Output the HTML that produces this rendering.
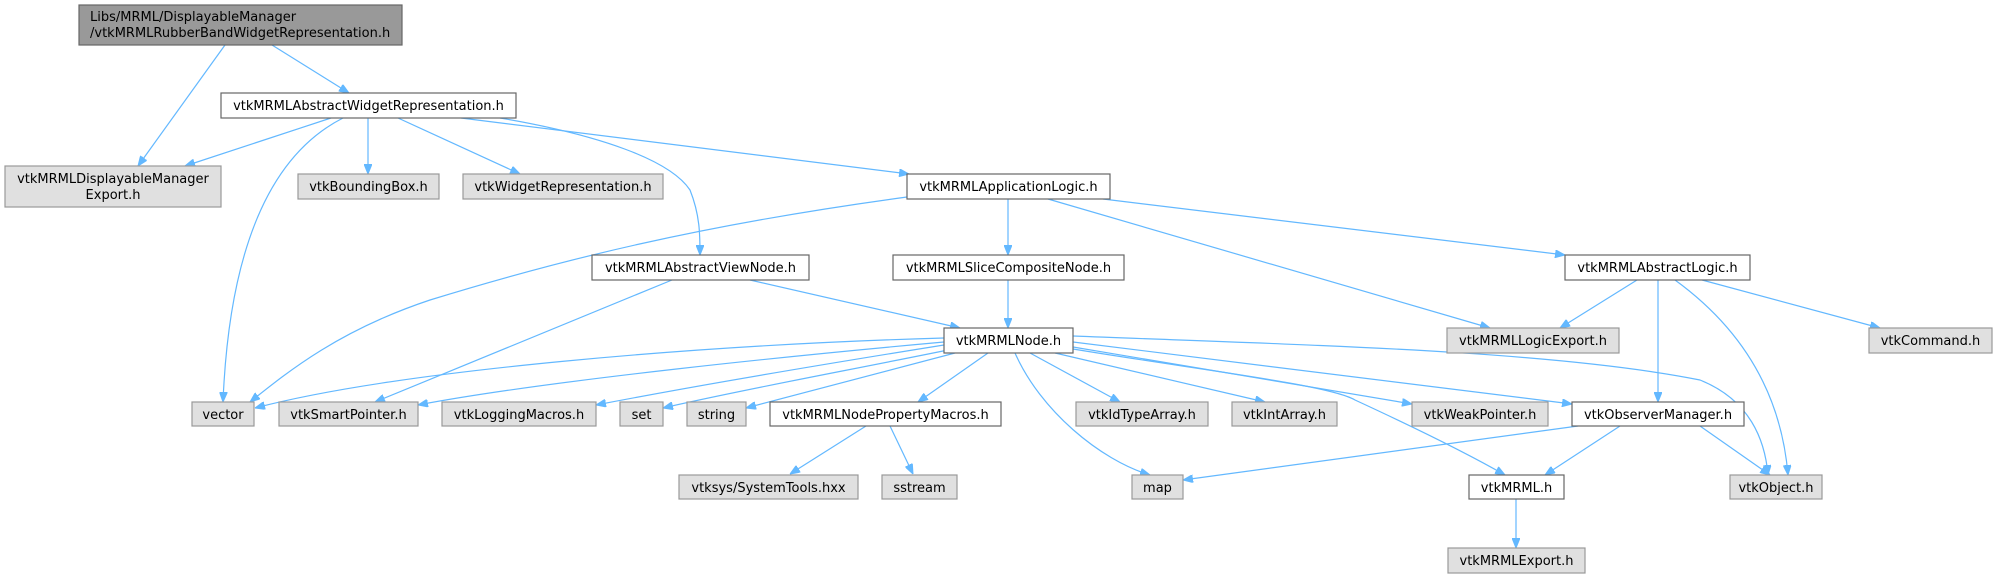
<!DOCTYPE html>
<html><head><meta charset="utf-8"><style>
html,body{margin:0;padding:0;background:#fff;}
svg{display:block;}
text{font-family:"DejaVu Sans","Liberation Sans",sans-serif;font-size:13px;fill:#000;}
.w{fill:#fff;stroke:#666;stroke-width:1.2;}
.g{fill:#e0e0e0;stroke:#999;stroke-width:1.2;}
.r{fill:#999;stroke:#666;stroke-width:1.2;}
.e{fill:none;stroke:#63b8ff;stroke-width:1.2;}
</style></head><body>
<svg width="1997" height="579" viewBox="0 0 1997 579" xmlns="http://www.w3.org/2000/svg">
<defs><marker id="a" viewBox="0 0 10 8" refX="10" refY="4" markerWidth="10" markerHeight="8" markerUnits="userSpaceOnUse" orient="auto"><path d="M0,0 L10,4 L0,8 z" fill="#63b8ff" stroke="#63b8ff"/></marker></defs>
<g marker-end="url(#a)">
<path class="e" d="M225,45 L138,166"/>
<path class="e" d="M272,45 L349,93"/>
<path class="e" d="M331,118 L185,166"/>
<path class="e" d="M343,118 C280,150 230,230 223,402"/>
<path class="e" d="M368,118 L368,174"/>
<path class="e" d="M398,118 L520,174"/>
<path class="e" d="M461,118 L909,174"/>
<path class="e" d="M500,118 C600,135 670,160 690,190 C700,215 700,235 700,255"/>
<path class="e" d="M907,197 C700,225 560,260 430,300 C340,330 290,370 250,402"/>
<path class="e" d="M1008,199 L1008,255"/>
<path class="e" d="M1048,199 L1490,328"/>
<path class="e" d="M1103,199 L1565,255"/>
<path class="e" d="M672,280 L375,402"/>
<path class="e" d="M750,280 L960,328"/>
<path class="e" d="M1008,280 L1008,328"/>
<path class="e" d="M1637,280 L1560,328"/>
<path class="e" d="M1658,280 L1658,402"/>
<path class="e" d="M1675,280 C1730,320 1780,380 1788,475"/>
<path class="e" d="M1702,280 L1880,328"/>
<path class="e" d="M944,338 C700,345 400,370 255,408"/>
<path class="e" d="M944,342 C800,355 550,380 418,405"/>
<path class="e" d="M944,345 C850,360 700,385 596,405"/>
<path class="e" d="M948,350 C850,370 740,390 663,408"/>
<path class="e" d="M955,353 L746,408"/>
<path class="e" d="M988,353 L918,402"/>
<path class="e" d="M1015,353 C1040,410 1100,460 1150,475"/>
<path class="e" d="M1030,353 L1120,402"/>
<path class="e" d="M1055,353 L1265,402"/>
<path class="e" d="M1073,347 L1412,404"/>
<path class="e" d="M1073,342 L1572,404"/>
<path class="e" d="M1073,349 C1200,370 1330,385 1355,400 C1420,430 1470,455 1505,475"/>
<path class="e" d="M1073,336 C1300,345 1550,350 1700,380 C1750,400 1765,440 1768,475"/>
<path class="e" d="M866,426 L790,474"/>
<path class="e" d="M890,426 L913,474"/>
<path class="e" d="M1578,426 L1183,480"/>
<path class="e" d="M1620,426 L1545,475"/>
<path class="e" d="M1700,426 L1770,475"/>
<path class="e" d="M1516,499 L1516,548"/>
</g>
<rect class="r" x="79" y="5" width="323" height="40"/>
<text x="90" y="21">Libs/MRML/DisplayableManager</text>
<text x="90" y="37">/vtkMRMLRubberBandWidgetRepresentation.h</text>
<rect class="w" x="221" y="93" width="295" height="25"/><text x="368.5" y="110" text-anchor="middle">vtkMRMLAbstractWidgetRepresentation.h</text>
<rect class="g" x="5" y="166" width="216" height="41"/>
<text x="113" y="183" text-anchor="middle">vtkMRMLDisplayableManager</text>
<text x="113" y="199" text-anchor="middle">Export.h</text>
<rect class="g" x="298" y="174" width="141" height="25"/><text x="368.5" y="191" text-anchor="middle">vtkBoundingBox.h</text>
<rect class="g" x="463" y="174" width="200" height="25"/><text x="563" y="191" text-anchor="middle">vtkWidgetRepresentation.h</text>
<rect class="w" x="907" y="174" width="203" height="25"/><text x="1008.5" y="191" text-anchor="middle">vtkMRMLApplicationLogic.h</text>
<rect class="w" x="592" y="255" width="217" height="25"/><text x="700.5" y="272" text-anchor="middle">vtkMRMLAbstractViewNode.h</text>
<rect class="w" x="893" y="255" width="231" height="25"/><text x="1008.5" y="272" text-anchor="middle">vtkMRMLSliceCompositeNode.h</text>
<rect class="w" x="1565" y="255" width="185" height="25"/><text x="1657.5" y="272" text-anchor="middle">vtkMRMLAbstractLogic.h</text>
<rect class="w" x="944" y="328" width="129" height="25"/><text x="1008.5" y="345" text-anchor="middle">vtkMRMLNode.h</text>
<rect class="g" x="1447" y="328" width="172" height="25"/><text x="1533" y="345" text-anchor="middle">vtkMRMLLogicExport.h</text>
<rect class="g" x="1869" y="328" width="123" height="25"/><text x="1930.5" y="345" text-anchor="middle">vtkCommand.h</text>
<rect class="g" x="192" y="402" width="62" height="24"/><text x="223" y="419" text-anchor="middle">vector</text>
<rect class="g" x="279" y="402" width="139" height="24"/><text x="348.5" y="419" text-anchor="middle">vtkSmartPointer.h</text>
<rect class="g" x="442" y="402" width="154" height="24"/><text x="519" y="419" text-anchor="middle">vtkLoggingMacros.h</text>
<rect class="g" x="620" y="402" width="43" height="24"/><text x="641.5" y="419" text-anchor="middle">set</text>
<rect class="g" x="687" y="402" width="59" height="24"/><text x="716.5" y="419" text-anchor="middle">string</text>
<rect class="w" x="770" y="402" width="231" height="24"/><text x="885.5" y="419" text-anchor="middle">vtkMRMLNodePropertyMacros.h</text>
<rect class="g" x="1076" y="402" width="132" height="24"/><text x="1142" y="419" text-anchor="middle">vtkIdTypeArray.h</text>
<rect class="g" x="1232" y="402" width="105" height="24"/><text x="1284.5" y="419" text-anchor="middle">vtkIntArray.h</text>
<rect class="g" x="1412" y="402" width="136" height="24"/><text x="1480" y="419" text-anchor="middle">vtkWeakPointer.h</text>
<rect class="w" x="1572" y="402" width="172" height="24"/><text x="1658" y="419" text-anchor="middle">vtkObserverManager.h</text>
<rect class="g" x="679" y="475" width="179" height="24"/><text x="768.5" y="492" text-anchor="middle">vtksys/SystemTools.hxx</text>
<rect class="g" x="882" y="475" width="75" height="24"/><text x="919.5" y="492" text-anchor="middle">sstream</text>
<rect class="g" x="1132" y="475" width="51" height="24"/><text x="1157.5" y="492" text-anchor="middle">map</text>
<rect class="w" x="1469" y="475" width="95" height="24"/><text x="1516.5" y="492" text-anchor="middle">vtkMRML.h</text>
<rect class="g" x="1730" y="475" width="92" height="24"/><text x="1776" y="492" text-anchor="middle">vtkObject.h</text>
<rect class="g" x="1448" y="548" width="137" height="25"/><text x="1516.5" y="565" text-anchor="middle">vtkMRMLExport.h</text>
</svg>
</body></html>
